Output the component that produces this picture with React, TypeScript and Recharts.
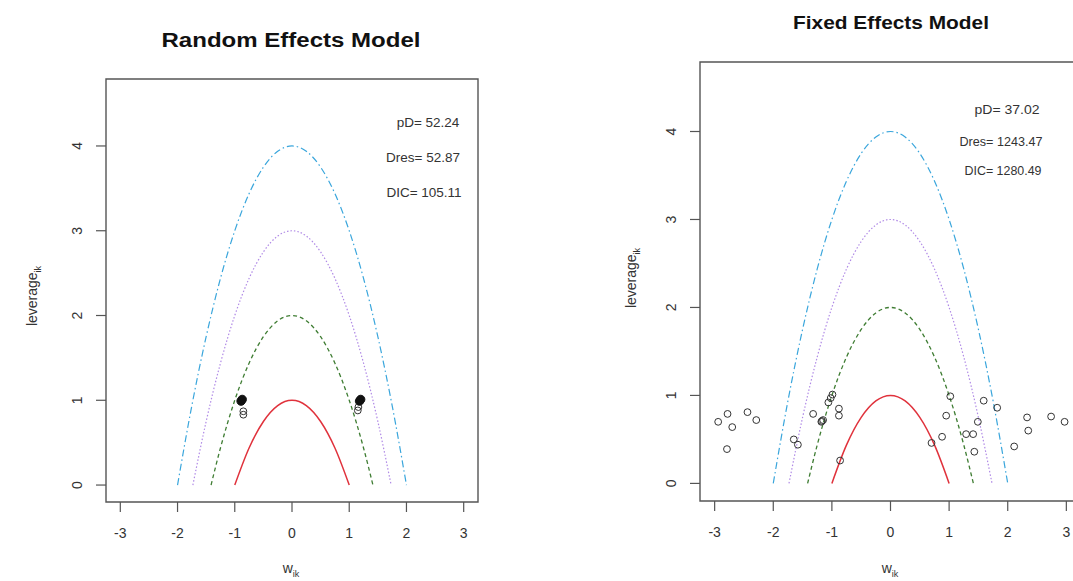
import React from 'react';
import { ComposedChart, Line, Scatter, XAxis, YAxis, ReferenceArea } from 'recharts';

// ---- axes ----
const X_TICKS = [-3, -2, -1, 0, 1, 2, 3];
const Y_TICKS = [0, 1, 2, 3, 4];
const X_DOMAIN: [number, number] = [-3.25, 3.25];
const Y_DOMAIN: [number, number] = [-0.2, 4.79];

// ---- reference contours (leverage + w^2 = c) ----
const c1X = [-1, -0.75, -0.5, -0.25, 0, 0.25, 0.5, 0.75, 1];
const c1Y = [0, 0.4375, 0.75, 0.9375, 1, 0.9375, 0.75, 0.4375, 0];
const c2X = [-1.414, -1.25, -1, -0.75, -0.5, -0.25, 0, 0.25, 0.5, 0.75, 1, 1.25, 1.414];
const c2Y = [0, 0.4375, 1, 1.4375, 1.75, 1.9375, 2, 1.9375, 1.75, 1.4375, 1, 0.4375, 0];
const c3X = [-1.732, -1.5, -1.25, -1, -0.75, -0.5, -0.25, 0, 0.25, 0.5, 0.75, 1, 1.25, 1.5, 1.732];
const c3Y = [0, 0.75, 1.4375, 2, 2.4375, 2.75, 2.9375, 3, 2.9375, 2.75, 2.4375, 2, 1.4375, 0.75, 0];
const c4X = [-2, -1.75, -1.5, -1.25, -1, -0.75, -0.5, -0.25, 0, 0.25, 0.5, 0.75, 1, 1.25, 1.5, 1.75, 2];
const c4Y = [0, 0.9375, 1.75, 2.4375, 3, 3.4375, 3.75, 3.9375, 4, 3.9375, 3.75, 3.4375, 3, 2.4375, 1.75, 0.9375, 0];

// ---- Random effects model points ----
const reFilledX = [-0.89, -0.87, 1.18, 1.2];
const reFilledY = [0.99, 1.01, 0.99, 1.01];
const reOpenX = [-0.85, -0.85, 1.16, 1.15];
const reOpenY = [0.87, 0.83, 0.92, 0.88];

// ---- Fixed effects model points ----
const feX = [-2.94, -2.78, -2.7, -2.44, -2.29, -2.79, -1.65, -1.58, -1.32, -1.17, -1.15, -1.18, -1.06, -1.02, -0.99, -0.88, -0.88, -0.86,
  0.7, 0.88, 0.95, 1.02, 1.29, 1.41, 1.43, 1.49, 1.59, 1.82, 2.11, 2.33, 2.35, 2.74, 2.97];
const feY = [0.7, 0.79, 0.64, 0.81, 0.72, 0.39, 0.5, 0.44, 0.79, 0.71, 0.72, 0.7, 0.92, 0.97, 1.01, 0.85, 0.77, 0.26,
  0.46, 0.53, 0.77, 0.99, 0.56, 0.56, 0.36, 0.7, 0.94, 0.86, 0.42, 0.75, 0.6, 0.76, 0.7];

// ---- annotations ----
const reStats = ['pD= 52.24', 'Dres= 52.87', 'DIC= 105.11'];
const feStats = ['pD= 37.02', 'Dres= 1243.47', 'DIC= 1280.49'];

const zip = (xs: number[], ys: number[]) => xs.map((x, i) => ({ x, y: ys[i] }));

const FONT = '"Liberation Sans", Arial, sans-serif';
const AX = '#555';
const TXT = '#333';

const OpenCircle = (p: any) => (
  <circle cx={p.cx} cy={p.cy} r={3.4} fill="none" stroke="#333" strokeWidth={1} />
);
const FilledCircle = (p: any) => (
  <circle cx={p.cx} cy={p.cy} r={4.2} fill="#111" stroke="#111" strokeWidth={1} />
);

const XTick = (p: any) => (
  <text x={p.x} y={p.y + 19} textAnchor="middle" dominantBaseline="central" fontSize={14} fill={TXT} fontFamily={FONT}>
    {p.payload.value}
  </text>
);
const YTick = (p: any) => {
  const tx = p.x - 17;
  return (
    <text x={tx} y={p.y} transform={`rotate(-90 ${tx} ${p.y})`} textAnchor="middle" dominantBaseline="central" fontSize={14} fill={TXT} fontFamily={FONT}>
      {p.payload.value}
    </text>
  );
};

type PanelProps = {
  width: number;
  height: number;
  margin: { top: number; right: number; bottom: number; left: number };
  children?: React.ReactNode;
};

function Panel({ width, height, margin, children }: PanelProps) {
  return (
    <ComposedChart width={width} height={height} margin={margin}>
      <XAxis
        dataKey="x"
        type="number"
        domain={X_DOMAIN}
        ticks={X_TICKS}
        allowDataOverflow
        height={40}
        tickSize={10}
        tickMargin={2}
        axisLine={false}
        tickLine={{ stroke: AX, strokeWidth: 1.2 }}
        tick={XTick}
      />
      <YAxis
        dataKey="y"
        type="number"
        domain={Y_DOMAIN}
        ticks={Y_TICKS}
        allowDataOverflow
        width={40}
        tickSize={10}
        tickMargin={2}
        axisLine={false}
        tickLine={{ stroke: AX, strokeWidth: 1.2 }}
        tick={YTick}
      />
      <ReferenceArea x1={X_DOMAIN[0]} x2={X_DOMAIN[1]} y1={Y_DOMAIN[0]} y2={Y_DOMAIN[1]} fill="none" stroke={AX} strokeWidth={1.4} />
      <Line data={zip(c4X, c4Y)} dataKey="y" type="monotone" stroke="#3aa6dc" strokeWidth={1.2} strokeDasharray="7 3 1.5 3" dot={false} isAnimationActive={false} />
      <Line data={zip(c3X, c3Y)} dataKey="y" type="monotone" stroke="#b08ae6" strokeWidth={1.2} strokeDasharray="1.5 2" dot={false} isAnimationActive={false} />
      <Line data={zip(c2X, c2Y)} dataKey="y" type="monotone" stroke="#3f7d33" strokeWidth={1.3} strokeDasharray="4 3" dot={false} isAnimationActive={false} />
      <Line data={zip(c1X, c1Y)} dataKey="y" type="monotone" stroke="#e0323c" strokeWidth={1.5} dot={false} isAnimationActive={false} />
      {children}
    </ComposedChart>
  );
}

const Sub = ({ main, sub }: { main: string; sub: string }) => (
  <>
    {main}
    <tspan fontSize={9} dy={4}>{sub}</tspan>
  </>
);

export default function App() {
  return (
    <div style={{ position: 'fixed', left: 0, top: 0, width: 1073, height: 581, overflow: 'hidden', background: '#fff', fontFamily: FONT }}>
      <div style={{ position: 'absolute', left: 0, top: 0 }}>
        <Panel width={540} height={581} margin={{ top: 79, right: 62, bottom: 39, left: 66 }}>
          <Scatter data={zip(reOpenX, reOpenY)} dataKey="y" shape={OpenCircle} isAnimationActive={false} />
          <Scatter data={zip(reFilledX, reFilledY)} dataKey="y" shape={FilledCircle} isAnimationActive={false} />
        </Panel>
      </div>
      <div style={{ position: 'absolute', left: 560, top: 0 }}>
        <Panel width={560} height={581} margin={{ top: 62, right: 39, bottom: 40, left: 100 }}>
          <Scatter data={zip(feX, feY)} dataKey="y" shape={OpenCircle} isAnimationActive={false} />
        </Panel>
      </div>
      <svg width={1073} height={581} style={{ position: 'absolute', left: 0, top: 0, pointerEvents: 'none' }} fontFamily={FONT}>
        <text x={291} y={47} textAnchor="middle" fontSize={20} fontWeight="bold" fill="#111" textLength={259} lengthAdjust="spacingAndGlyphs">Random Effects Model</text>
        <text x={891} y={29} textAnchor="middle" fontSize={19} fontWeight="bold" fill="#111" textLength={196} lengthAdjust="spacingAndGlyphs">Fixed Effects Model</text>

        <text x={428} y={122} textAnchor="middle" dominantBaseline="central" fontSize={13.5} fill={TXT}>{reStats[0]}</text>
        <text x={423} y={157} textAnchor="middle" dominantBaseline="central" fontSize={13.5} fill={TXT}>{reStats[1]}</text>
        <text x={424} y={192} textAnchor="middle" dominantBaseline="central" fontSize={13.5} fill={TXT}>{reStats[2]}</text>

        <text x={1007} y={109} textAnchor="middle" dominantBaseline="central" fontSize={13} fill={TXT} textLength={65} lengthAdjust="spacingAndGlyphs">{feStats[0]}</text>
        <text x={1001} y={141} textAnchor="middle" dominantBaseline="central" fontSize={13} fill={TXT} textLength={83} lengthAdjust="spacingAndGlyphs">{feStats[1]}</text>
        <text x={1003} y={170} textAnchor="middle" dominantBaseline="central" fontSize={13} fill={TXT} textLength={77} lengthAdjust="spacingAndGlyphs">{feStats[2]}</text>

        <text x={291} y={573} textAnchor="middle" fontSize={14} fill={TXT}><Sub main="w" sub="ik" /></text>
        <text x={890} y={573} textAnchor="middle" fontSize={14} fill={TXT}><Sub main="w" sub="ik" /></text>

        <text x={0} y={0} transform="translate(37 296) rotate(-90)" textAnchor="middle" fontSize={14} fill={TXT}><Sub main="leverage" sub="ik" /></text>
        <text x={0} y={0} transform="translate(636 278) rotate(-90)" textAnchor="middle" fontSize={14} fill={TXT}><Sub main="leverage" sub="ik" /></text>
      </svg>
    </div>
  );
}
